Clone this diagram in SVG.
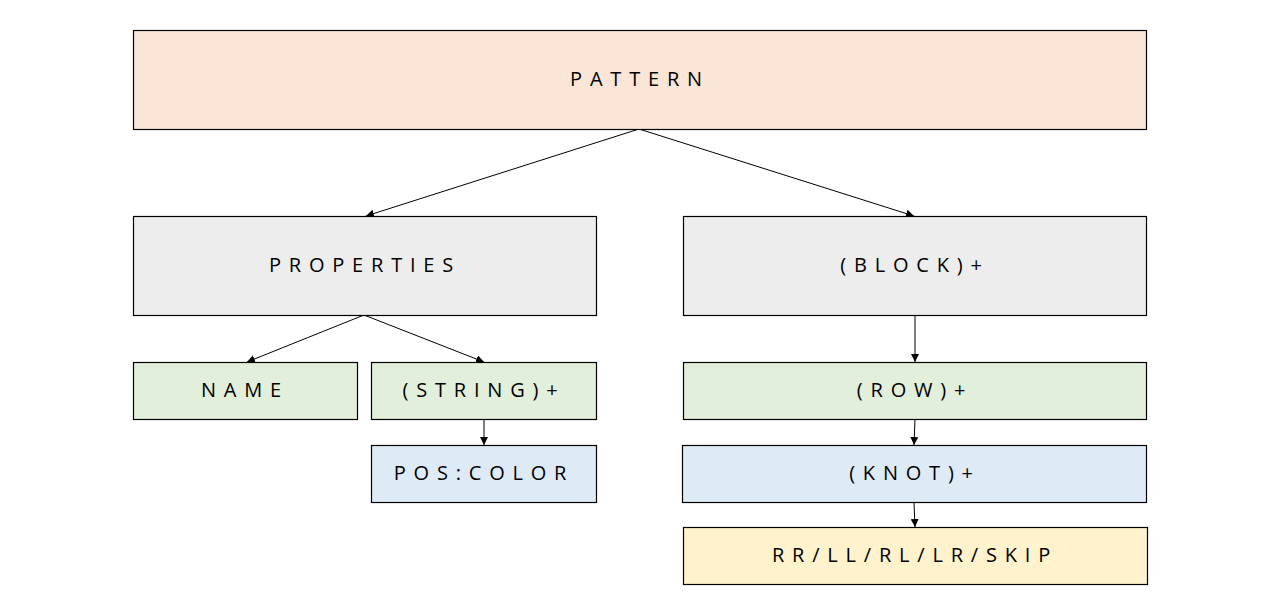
<svg xmlns="http://www.w3.org/2000/svg" width="1280" height="608" viewBox="0 0 1280 608">
<defs>
<style>
.box{stroke:#000;stroke-width:1.2}
.t{font-family:"Open Sans","Noto Sans",sans-serif;font-size:20px;letter-spacing:7.8px;fill:#000;text-anchor:middle}
.c{stroke:#000;stroke-width:1;fill:none;marker-end:url(#ah)}
</style>
<marker id="ah" viewBox="0 0 10 10" refX="10" refY="5" markerWidth="8" markerHeight="8" markerUnits="userSpaceOnUse" orient="auto">
<path d="M0,0 L10,5 L0,10 z" fill="#000"/>
</marker>
</defs>
<rect width="1280" height="608" fill="#fff"/>
<g id="connectors">
<line class="c" x1="639" y1="129" x2="366" y2="216"/>
<line class="c" x1="639" y1="129" x2="914" y2="216"/>
<line class="c" x1="364" y1="315" x2="247" y2="362"/>
<line class="c" x1="364" y1="315" x2="484" y2="362"/>
<line class="c" x1="484" y1="419" x2="484" y2="445"/>
<line class="c" x1="915" y1="315" x2="915" y2="362"/>
<line class="c" x1="915" y1="419" x2="914" y2="445"/>
<line class="c" x1="914" y1="502" x2="915" y2="527"/>
</g>
<g id="pattern"><rect class="box" x="133.5" y="30.5" width="1013" height="99" fill="#FBE5D6"/><text class="t" x="640" y="86">PATTERN</text></g>
<g id="properties"><rect class="box" x="133.5" y="216.5" width="463" height="99" fill="#EDEDED"/><text class="t" x="365" y="272">PROPERTIES</text></g>
<g id="block"><rect class="box" x="683.5" y="216.5" width="463" height="99" fill="#EDEDED"/><text class="t" x="915" y="272">(BLOCK)+</text></g>
<g id="name"><rect class="box" x="133.5" y="362.5" width="224" height="57" fill="#E2EFDA"/><text class="t" x="245" y="397">NAME</text></g>
<g id="string"><rect class="box" x="371.5" y="362.5" width="225" height="57" fill="#E2EFDA"/><text class="t" x="484" y="397">(STRING)+</text></g>
<g id="poscolor"><rect class="box" x="371.5" y="445.5" width="225" height="57" fill="#DEEBF7"/><text class="t" x="484" y="480">POS:COLOR</text></g>
<g id="row"><rect class="box" x="683.5" y="362.5" width="463" height="57" fill="#E2EFDA"/><text class="t" x="915" y="397">(ROW)+</text></g>
<g id="knot"><rect class="box" x="682.5" y="445.5" width="464" height="57" fill="#DEEBF7"/><text class="t" x="915" y="480">(KNOT)+</text></g>
<g id="moves"><rect class="box" x="683.5" y="527.5" width="464" height="57" fill="#FFF2CC"/><text class="t" x="915" y="562">RR/LL/RL/LR/SKIP</text></g>
</svg>
